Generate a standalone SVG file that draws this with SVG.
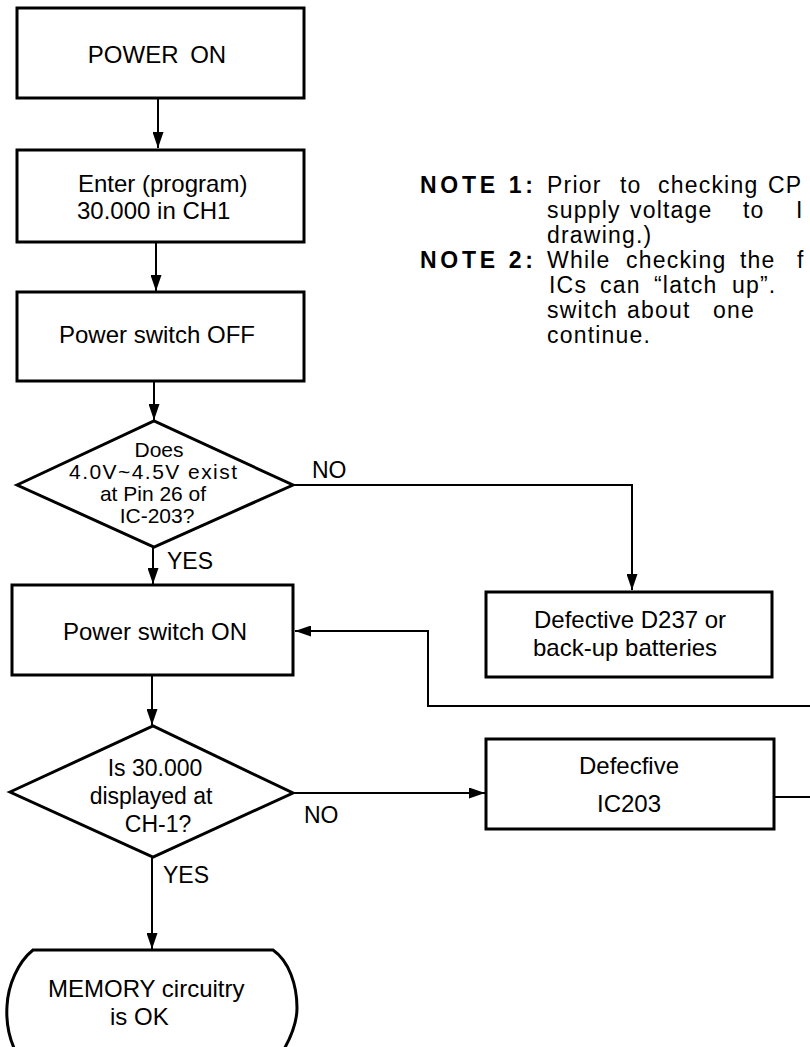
<svg xmlns="http://www.w3.org/2000/svg" width="810" height="1047" viewBox="0 0 810 1047">
<defs>
<style>
.box{fill:#fff;stroke:#000;stroke-width:3}
.t{font-family:"Liberation Sans",Arial,sans-serif;font-size:24px;fill:#000}
.d{font-family:"Liberation Sans",Arial,sans-serif;font-size:21px;fill:#000}
.d2{font-family:"Liberation Sans",Arial,sans-serif;font-size:23px;fill:#000}
.lbl{font-family:"Liberation Sans",Arial,sans-serif;font-size:23px;fill:#000}
.n{font-family:"Liberation Sans",Arial,sans-serif;font-size:23px;letter-spacing:1.2px;fill:#000}
.nb{font-family:"Liberation Sans",Arial,sans-serif;font-size:23px;font-weight:bold;fill:#000}
.c{fill:none;stroke:#000;stroke-width:2}
.m{text-anchor:middle}
</style>
<marker id="ah" markerUnits="userSpaceOnUse" markerWidth="16" markerHeight="11" refX="16" refY="5.5" orient="auto">
<path d="M0,0 L16,5.5 L0,11 z" fill="#000"/>
</marker>
</defs>
<rect width="810" height="1047" fill="#fff"/>

<g id="connectors">
<line class="c" x1="158" y1="98" x2="158" y2="148" marker-end="url(#ah)"/>
<line class="c" x1="156" y1="242" x2="156" y2="291" marker-end="url(#ah)"/>
<line class="c" x1="154" y1="381" x2="154" y2="420" marker-end="url(#ah)"/>
<line class="c" x1="153" y1="547" x2="153" y2="584" marker-end="url(#ah)"/>
<polyline class="c" points="293,485 632,485 632,590" marker-end="url(#ah)"/>
<polyline class="c" points="810,706 428,706 428,631 295,631" marker-end="url(#ah)"/>
<line class="c" x1="152" y1="675" x2="152" y2="725" marker-end="url(#ah)"/>
<line class="c" x1="293" y1="793" x2="485" y2="793" marker-end="url(#ah)"/>
<line class="c" x1="774" y1="797" x2="810" y2="797"/>
<line class="c" x1="152" y1="857" x2="152" y2="949" marker-end="url(#ah)"/>
<text class="lbl" x="312" y="478">NO</text>
<text class="lbl" x="167" y="569">YES</text>
<text class="lbl" x="304" y="823">NO</text>
<text class="lbl" x="163" y="883">YES</text>
</g>

<g id="power-on">
<rect class="box" x="17" y="8" width="287" height="90"/>
<text class="t m" x="157" y="63" word-spacing="5">POWER ON</text>
</g>

<g id="enter-program">
<rect class="box" x="17" y="150" width="287" height="92"/>
<text class="t" x="78" y="192">Enter (program)</text>
<text class="t" x="77" y="219">30.000 in CH1</text>
</g>

<g id="power-switch-off">
<rect class="box" x="17" y="292" width="287" height="89"/>
<text class="t m" x="157" y="343">Power switch OFF</text>
</g>

<g id="decision-voltage">
<polygon class="box" points="17,485 154,421 293,485 154,547"/>
<text class="d m" x="159" y="457">Does</text>
<text class="d m" x="153" y="479" textLength="168" lengthAdjust="spacing">4.0V~4.5V exist</text>
<text class="d m" x="153" y="501">at Pin 26 of</text>
<text class="d m" x="157" y="523">IC-203?</text>
</g>

<g id="power-switch-on">
<rect class="box" x="12" y="585" width="281" height="90"/>
<text class="t m" x="155" y="640">Power switch ON</text>
</g>

<g id="defective-d237">
<rect class="box" x="486" y="592" width="286" height="85"/>
<text class="t" x="534" y="628">Defective D237 or</text>
<text class="t" x="533" y="656">back-up batteries</text>
</g>

<g id="decision-display">
<polygon class="box" points="10,792 153,726 293,793 153,857"/>
<text class="d2 m" x="155" y="776">Is 30.000</text>
<text class="d2 m" x="151" y="804">displayed at</text>
<text class="d2 m" x="158" y="832">CH-1?</text>
</g>

<g id="defective-ic203">
<rect class="box" x="486" y="739" width="288" height="90"/>
<text class="t m" x="629" y="774">Defecfive</text>
<text class="t m" x="629" y="812">IC203</text>
</g>

<g id="memory-ok">
<path class="box" d="M33,950 L273,950 C289,961 297,985 297,1008 C297,1025 290,1040 280,1056 L18,1056 C9,1040 6,1022 7,1006 C8,985 18,962 33,950 Z"/>
<text class="t" x="48" y="997">MEMORY circuitry</text>
<text class="t" x="110" y="1025">is OK</text>
</g>

<g id="notes">
<text class="nb" x="420" y="193" textLength="113" lengthAdjust="spacing">NOTE 1:</text>
<text class="n" y="193"><tspan x="547">Prior</tspan><tspan x="620">to</tspan><tspan x="658">checking</tspan><tspan x="768">CP</tspan></text>
<text class="n" y="218"><tspan x="547">supply</tspan><tspan x="630">voltage</tspan><tspan x="743">to</tspan><tspan x="796">I</tspan></text>
<text class="n" x="547" y="243">drawing.)</text>
<text class="nb" x="420" y="268" textLength="113" lengthAdjust="spacing">NOTE 2:</text>
<text class="n" y="268"><tspan x="547">While</tspan><tspan x="626">checking</tspan><tspan x="740">the</tspan><tspan x="797">f</tspan></text>
<text class="n" y="293"><tspan x="549">ICs</tspan><tspan x="600">can</tspan><tspan x="654">“latch</tspan><tspan x="732">up”.</tspan></text>
<text class="n" y="318"><tspan x="547">switch</tspan><tspan x="627">about</tspan><tspan x="713">one</tspan></text>
<text class="n" x="547" y="343">continue.</text>
</g>
</svg>
